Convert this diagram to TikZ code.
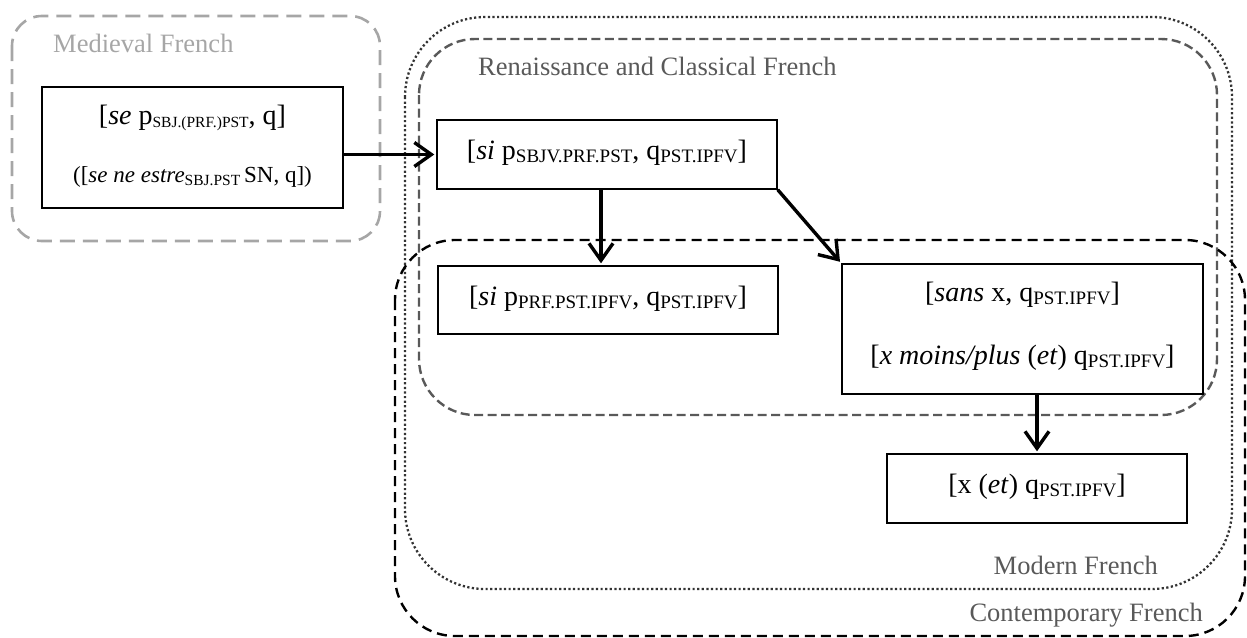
\documentclass[tikz,border=0pt]{standalone}
\usepackage{fontspec}
\setmainfont{Liberation Serif}
\usetikzlibrary{arrows.meta}
\newcommand\sbs[2][19]{\raisebox{-2.5pt}{\fontsize{#1}{#1}\selectfont #2}}
\definecolor{lightg}{HTML}{A6A6A6}
\definecolor{darkg}{HTML}{595959}
\definecolor{dotg}{HTML}{333333}
\tikzset{
  medieval/.style={draw=lightg, line width=2.6pt, dash pattern=on 15pt off 8pt, rounded corners=30pt},
  renaissance/.style={draw=darkg, line width=2.4pt, dash pattern=on 9pt off 4.5pt, rounded corners=56pt},
  modern/.style={draw=dotg, line width=2.3pt, dash pattern=on 2.2pt off 2.4pt, rounded corners=80pt},
  contemporary/.style={draw=black, line width=2.4pt, dash pattern=on 10pt off 6pt, rounded corners=60pt},
  periodlabel/.style={font=\fontsize{26.5}{30}\selectfont, text=darkg, inner sep=0pt},
  stage/.style={draw=black, line width=1.4pt, fill=white, inner sep=0pt},
  formula/.style={font=\fontsize{28}{32}\selectfont, inner sep=0pt},
  flow/.style={line width=3.4pt, shorten >=2pt, -{Straight Barb[length=17pt,width=24pt,line width=3.4pt]}},
}
\begin{document}
\begin{tikzpicture}[x=1pt,y=-1pt]
\useasboundingbox (0,0) rectangle (1247,637);
% period containers
\draw[medieval] (12,16) rectangle (380,241);
\draw[modern] (405,17) rectangle (1232,589);
\draw[renaissance] (419,39) rectangle (1217,415);
\draw[contemporary] (395,240) rectangle (1245,636);
\node[periodlabel, text=lightg, anchor=west] (lmed) at (53,43) {Medieval French};
\node[periodlabel, anchor=west] (lren) at (478,66) {Renaissance and Classical French};
\node[periodlabel, anchor=east] (lmod) at (1158,565) {Modern French};
\node[periodlabel, anchor=east] (lcon) at (1203,615) {Contemporary French};
% stages
\node[stage, minimum width=301pt, minimum height=121pt] (med) at (192.5,147.5) {};
\node[formula] (med1) at (192.5,118) {[\textit{se} p\sbs[15.5]{SBJ.(PRF.)PST}, q]};
\node[formula, font=\fontsize{23}{27}\selectfont] (med2) at (192.5,177) {([\textit{se ne estre}\sbs[15.5]{SBJ.PST}\,SN, q])};
\node[stage, minimum width=340pt, minimum height=69pt] (si1) at (607,154.5) {};
\node[formula] (si1t) at (607,153) {[\textit{si} p\sbs{SBJV.PRF.PST}, q\sbs{PST.IPFV}]};
\node[stage, minimum width=340pt, minimum height=68pt] (si2) at (608,300) {};
\node[formula] (si2t) at (608,299) {[\textit{si} p\sbs{PRF.PST.IPFV}, q\sbs{PST.IPFV}]};
\node[stage, minimum width=361pt, minimum height=130pt] (sans) at (1022.5,329) {};
\node[formula] (sans1) at (1022.5,295) {[\textit{sans} x, q\sbs{PST.IPFV}]};
\node[formula] (sans2) at (1022.5,358) {[\textit{x moins/plus} (\textit{et}) q\sbs{PST.IPFV}]};
\node[stage, minimum width=300pt, minimum height=69pt] (xet) at (1037,488.5) {};
\node[formula] (xett) at (1037,487) {[x (\textit{et}) q\sbs{PST.IPFV}]};
% connectors
\draw[flow] (med.east |- si1.west) -- (si1.west);
\draw[flow] ([xshift=-6pt]si1.south) -- ([xshift=-7pt]si2.north);
\draw[flow] (si1.south east) -- (sans.north west);
\draw[flow] (sans.south -| xet.north) -- (xet.north);
\end{tikzpicture}
\end{document}
